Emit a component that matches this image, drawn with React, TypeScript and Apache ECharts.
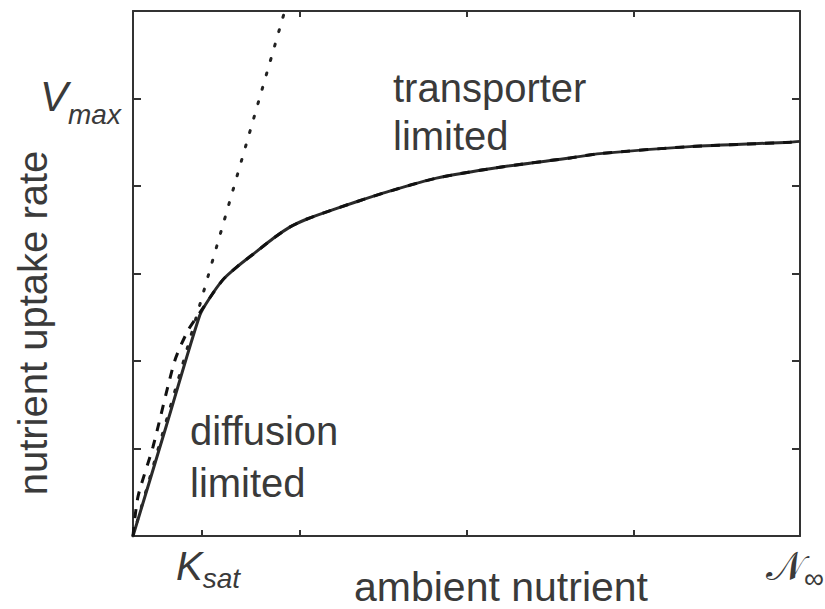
import React, { useEffect, useRef } from "react";
import * as echarts from "echarts";

// ---- data ----
const KSAT = 0.41; // position of K_sat tick on the nutrient axis
const N_INF = 4; // right end of the nutrient axis
const VMAX = 5; // level marked V_max
const xTicksBottom = [KSAT, 1, 2, 3];
const xTicksTop = [1, 2, 3];
const yTicks = [1, 2, 3, 4, VMAX];

const solidN = [0, 0.2, 0.4, 0.46, 0.54, 0.62, 0.74, 0.84, 0.94, 1.04, 1.14, 1.34, 1.52, 1.82, 2.22, 2.62, 2.8, 3.34, 3.94, 4.0];
const solidV = [0, 1.26, 2.52, 2.72, 2.93, 3.07, 3.25, 3.4, 3.53, 3.62, 3.69, 3.82, 3.93, 4.09, 4.22, 4.32, 4.37, 4.45, 4.5, 4.51];

const dashedN = [0, 0.03, 0.12, 0.25, 0.33, 0.4, 0.46, 0.54, 0.62, 0.74, 0.84, 0.94, 1.04, 1.14, 1.34, 1.52, 1.82, 2.22, 2.62, 2.8, 3.34, 3.94, 4.0];
const dashedV = [0, 0.45, 1.02, 2.0, 2.35, 2.55, 2.72, 2.93, 3.07, 3.25, 3.4, 3.53, 3.62, 3.69, 3.82, 3.93, 4.09, 4.22, 4.32, 4.37, 4.45, 4.5, 4.51];

const dottedN = [0, 0.91];
const dottedV = [0, 6];

const zip = (a: number[], b: number[]) => a.map((v, i) => [v, b[i]]);

const FONT = "Liberation Sans, Arial, Helvetica, sans-serif";
const TXT = "#3a3a3a";
const AX = "#333333";

export default function App() {
  const ref = useRef<HTMLDivElement>(null);
  useEffect(() => {
    if (!ref.current) return;
    const chart = echarts.init(ref.current, undefined, { renderer: "svg" });
    const axisCommon = {
      type: "value" as const,
      axisLine: { show: true, onZero: false, lineStyle: { color: AX, width: 2 } },
      splitLine: { show: false },
      axisLabel: { show: false },
    };
    chart.setOption({
      animation: false,
      backgroundColor: "#ffffff",
      grid: { left: 133, right: 25, top: 11, bottom: 73, containLabel: false },
      xAxis: [
        {
          ...axisCommon,
          min: 0,
          max: N_INF,
          position: "bottom",
          axisTick: { show: true, inside: true, length: 6, customValues: xTicksBottom, lineStyle: { color: AX, width: 2 } },
        },
        {
          ...axisCommon,
          min: 0,
          max: N_INF,
          position: "top",
          axisTick: { show: true, inside: true, length: 6, customValues: xTicksTop, lineStyle: { color: AX, width: 2 } },
        },
      ],
      yAxis: [
        {
          ...axisCommon,
          min: 0,
          max: 6,
          interval: 1,
          position: "left",
          axisTick: { show: true, inside: true, length: 8, customValues: yTicks, lineStyle: { color: AX, width: 2 } },
        },
        {
          ...axisCommon,
          min: 0,
          max: 6,
          interval: 1,
          position: "right",
          axisTick: { show: true, inside: true, length: 8, customValues: yTicks, lineStyle: { color: AX, width: 2 } },
        },
      ],
      series: [
        {
          type: "line",
          data: zip(dottedN, dottedV),
          showSymbol: false,
          clip: true,
          lineStyle: { color: "#222", width: 3, type: [2, 13], cap: "round" },
        },
        {
          type: "line",
          data: zip(solidN, solidV),
          showSymbol: false,
          smooth: 0.25,
          lineStyle: { color: "#2a2a2a", width: 3 },
        },
        {
          type: "line",
          data: zip(dashedN, dashedV),
          showSymbol: false,
          smooth: 0.25,
          lineStyle: { color: "#111", width: 3, type: [9, 9] },
        },
      ],
      graphic: [
        { type: "text", x: 393, y: 88, style: { text: "transporter", font: `40px ${FONT}`, fill: TXT, textAlign: "left", textVerticalAlign: "middle" } },
        { type: "text", x: 393, y: 136, style: { text: "limited", font: `40px ${FONT}`, fill: TXT, textAlign: "left", textVerticalAlign: "middle" } },
        { type: "text", x: 190, y: 431, style: { text: "diffusion", font: `40px ${FONT}`, fill: TXT, textAlign: "left", textVerticalAlign: "middle" } },
        { type: "text", x: 190, y: 483, style: { text: "limited", font: `40px ${FONT}`, fill: TXT, textAlign: "left", textVerticalAlign: "middle" } },
        { type: "text", x: 33, y: 323, rotation: Math.PI / 2, style: { text: "nutrient uptake rate", font: `40px ${FONT}`, fill: TXT, textAlign: "center", textVerticalAlign: "middle" } },
        { type: "text", x: 501, y: 587, style: { text: "ambient nutrient", font: `41px ${FONT}`, fill: TXT, textAlign: "center", textVerticalAlign: "middle" } },
        {
          type: "text",
          x: 40,
          y: 102,
          style: {
            text: "{a|V}{b|max}",
            fill: TXT,
            textAlign: "left",
            textVerticalAlign: "middle",
            rich: {
              a: { fontFamily: FONT, fontStyle: "italic", fontSize: 42, lineHeight: 42, verticalAlign: "top", fill: TXT },
              b: { fontFamily: FONT, fontStyle: "italic", fontSize: 28, lineHeight: 53, verticalAlign: "bottom", fill: TXT },
            },
          },
        },
        {
          type: "text",
          x: 176,
          y: 569,
          style: {
            text: "{a|K}{b|sat}",
            fill: TXT,
            textAlign: "left",
            textVerticalAlign: "middle",
            rich: {
              a: { fontFamily: FONT, fontStyle: "italic", fontSize: 40, lineHeight: 40, verticalAlign: "top", fill: TXT },
              b: { fontFamily: FONT, fontStyle: "italic", fontSize: 28, lineHeight: 46, verticalAlign: "bottom", fill: TXT },
            },
          },
        },
        {
          type: "text",
          x: 766,
          y: 569,
          style: {
            text: "{a|𝒩}{b|∞}",
            fill: TXT,
            textAlign: "left",
            textVerticalAlign: "middle",
            rich: {
              a: { fontFamily: "DejaVu Serif, Liberation Serif, serif", fontSize: 40, lineHeight: 40, verticalAlign: "top", fill: TXT },
              b: { fontFamily: FONT, fontSize: 28, lineHeight: 46, verticalAlign: "bottom", fill: TXT },
            },
          },
        },
      ],
    });
    return () => chart.dispose();
  }, []);
  return <div ref={ref} style={{ width: 825, height: 609, position: "absolute", left: 0, top: 0 }} />;
}
